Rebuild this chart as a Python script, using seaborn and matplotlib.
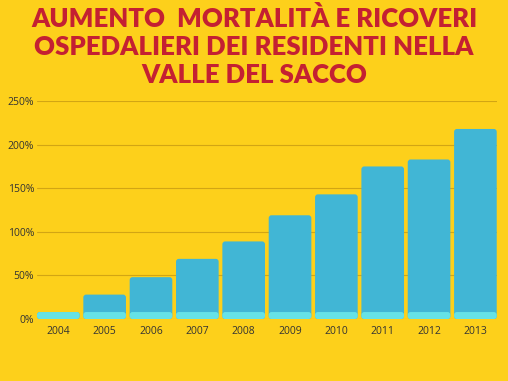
import matplotlib
matplotlib.use("Agg")
import matplotlib.pyplot as plt
from matplotlib.patches import FancyBboxPatch
import seaborn as sns
import pandas as pd

years = ["2004", "2005", "2006", "2007", "2008", "2009", "2010", "2011", "2012", "2013"]
totale = [8, 28, 48, 69, 89, 119, 143, 175, 183, 218]
base = [8, 8, 8, 8, 8, 8, 8, 8, 8, 8]
ytick_vals = [0, 50, 100, 150, 200, 250]
ytick_labels = ["0%", "50%", "100%", "150%", "200%", "250%"]
title = "AUMENTO  MORTALITÀ E RICOVERI\nOSPEDALIERI DEI RESIDENTI NELLA\nVALLE DEL SACCO"

BG = "#FDD01B"
sns.set_theme(style="white")
plt.rcParams["font.family"] = ["Open Sans", "DejaVu Sans"]

df = pd.DataFrame({"anno": years, "totale": totale, "base": base})

fig = plt.figure(figsize=(5.08, 3.81), dpi=100, facecolor=BG)
ax = fig.add_axes([0.0728, 0.1627, 0.905, 0.572])
ax.set_facecolor(BG)

w = 0.92
sns.barplot(data=df, x="anno", y="totale", color="#41B6D5", saturation=1, width=w,
            ax=ax, zorder=3, edgecolor="none", linewidth=0)
sns.barplot(data=df, x="anno", y="base", color="#66E2E6", saturation=1, width=w,
            ax=ax, zorder=4, edgecolor="none", linewidth=0)

ax.set_ylim(0, 250)
ax.set_xlim(-w / 2, len(years) - 1 + w / 2)

# round the bar corners slightly
rs = 0.06
aspect = 55
for p in list(ax.patches):
    x0, y0 = p.get_x(), p.get_y()
    bw, bh = p.get_width(), p.get_height()
    fb = FancyBboxPatch((x0, y0), bw, bh,
                        boxstyle=f"round,pad=0,rounding_size={rs}",
                        mutation_aspect=aspect,
                        facecolor=p.get_facecolor(), edgecolor="none",
                        zorder=p.get_zorder())
    p.set_visible(False)
    ax.add_patch(fb)

ax.set_yticks(ytick_vals)
ax.set_yticklabels(ytick_labels)
ax.yaxis.grid(True, color="#D2A514", linewidth=0.8, zorder=0)
ax.set_axisbelow(True)
for s in ax.spines.values():
    s.set_visible(False)
ax.tick_params(axis="both", length=0, labelsize=7.5, colors="#333333", pad=5)
ax.tick_params(axis="y", pad=2)
ax.set_xlabel("")
ax.set_ylabel("")

fig.text(0.5, 0.877, title, ha="center", va="center", color="#C42032",
         fontsize=18.5, fontweight="heavy", family=["Lato", "DejaVu Sans"],
         linespacing=1.2)

fig.savefig("out.png", dpi=100, facecolor=BG)
